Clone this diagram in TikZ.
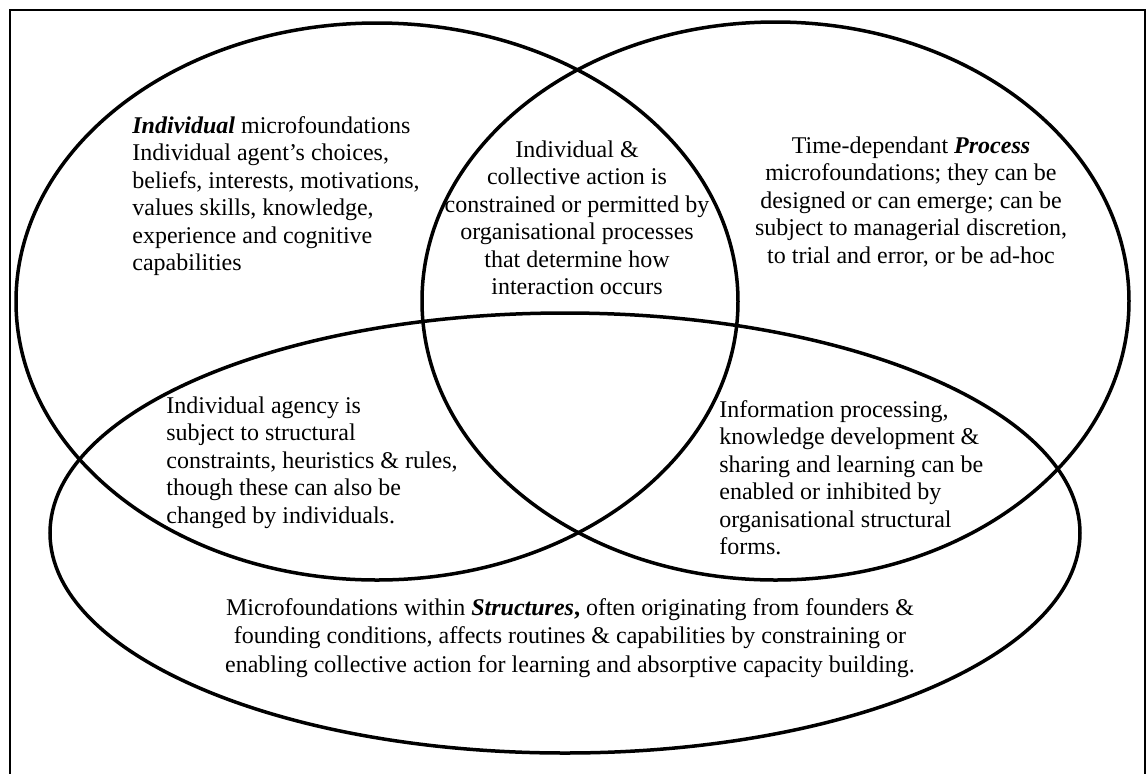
\documentclass[tikz,border=0pt]{standalone}
\usepackage{fontspec}
\setmainfont{Liberation Serif}
\usetikzlibrary{positioning}
\tikzset{
  venn/.style={line width=1.75pt},
  frame/.style={line width=1pt},
  txt/.style={inner sep=0pt,font=\fontsize{12}{13.75}\selectfont},
}

\begin{document}
\begin{tikzpicture}[x=0.5pt,y=-0.5pt]
    \useasboundingbox (0,0) rectangle (1148,773);
    \draw[frame] (10,775) -- (10,9.5) -- (1145,9.5) -- (1145,775);
    % the three sets
    \draw[venn] (377,301.5) ellipse [x radius=180.5pt, y radius=139.25pt];
    \draw[venn] (775.5,301) ellipse [x radius=176.75pt, y radius=139.5pt];
    \draw[venn] (565,533) ellipse [x radius=257.5pt, y radius=110pt];
    % texts (base = baseline of the last line)
    \node[txt,anchor=base west,align=left] (indiv) at (132,270.5)
    {\textbf{\textit{Individual}} microfoundations\\ Individual agent’s choices,\\
      beliefs, interests, motivations,\\ values skills, knowledge,\\
      experience and cognitive\\ capabilities};
    \node[txt,anchor=base,align=center] (action) at (577,294.5)
    {Individual \&\\ collective action is\\ constrained or permitted by\\
      organisational processes\\ that determine how\\ interaction occurs};
    \node[txt,anchor=base,align=center] (process) at (911,263)
    {Time-dependant \textbf{\textit{Process}}\\ microfoundations; they can be\\
      designed or can emerge; can be\\ subject to managerial discretion,\\
      to trial and error, or be ad-hoc};
    \node[txt,anchor=base west,align=left] (agency) at (166,523)
    {Individual agency is\\ subject to structural\\ constraints, heuristics \& rules,\\
      though these can also be\\ changed by individuals.};
    \node[txt,anchor=base west,align=left] (info) at (719,554.5)
    {Information processing,\\ knowledge development \&\\ sharing and learning can be\\
      enabled or inhibited by\\ organisational structural\\ forms.};
    \node[txt,anchor=base,align=center,font=\fontsize{12}{14.25}\selectfont] (struct) at (570,672)
    {Microfoundations within \textbf{\textit{Structures}}\textbf{,} often originating from founders \&\\
      founding conditions, affects routines \& capabilities by constraining or\\
      enabling collective action for learning and absorptive capacity building.};
  \end{tikzpicture}
\end{document}
